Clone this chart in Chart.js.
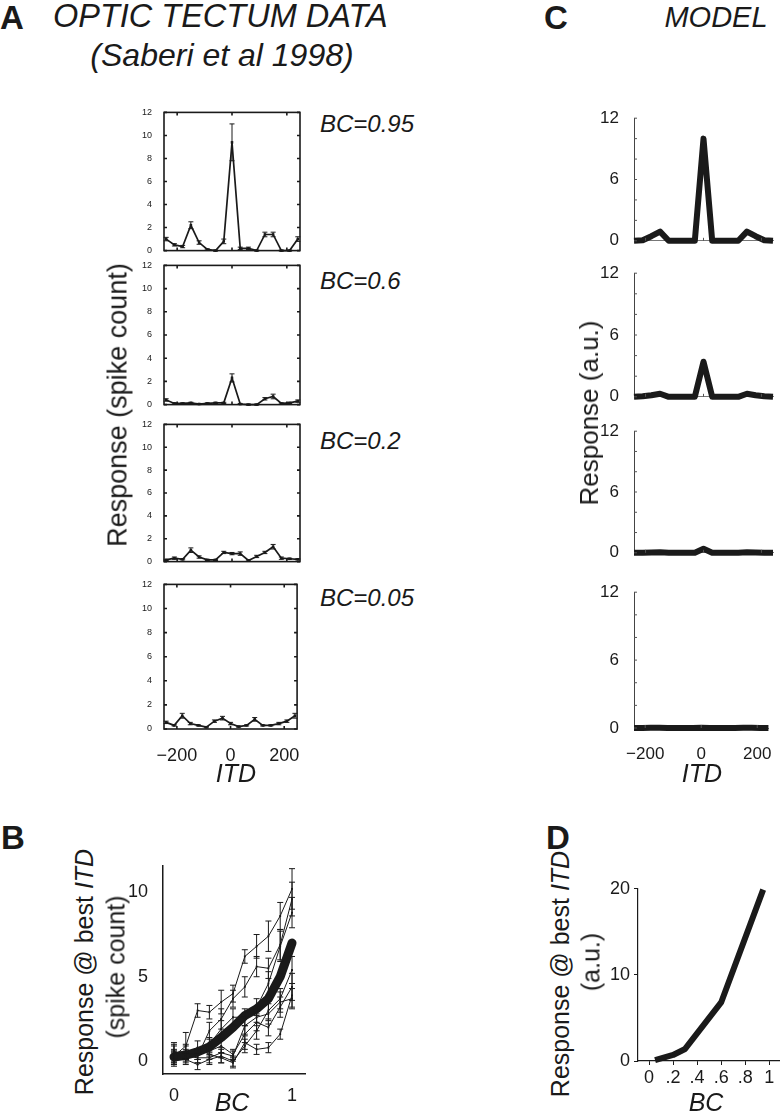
<!DOCTYPE html>
<html>
<head>
<meta charset="utf-8">
<script src="https://cdn.jsdelivr.net/npm/chart.js@4.4.0/dist/chart.umd.min.js"></script>
<style>
  body { margin: 0; background: #fff; width: 780px; height: 1116px; position: relative; overflow: hidden;
         font-family: "Liberation Sans", Arial, sans-serif; color: #1a1a1a; }
  canvas { position: absolute; }
  .t { position: absolute; white-space: nowrap; line-height: 1; }
  .i { font-style: italic; }
  .b { font-weight: bold; }
</style>
</head>
<body>
<script>
// ---- data ----
const itdTectum = [-240, -210, -180, -150, -120, -90, -60, -30, 0, 30, 60, 90, 120, 150, 180, 210, 240];
const itdTicks = [-200, 0, 200];

// optic tectum responses (spike count) and error bars
const tect95 = [1.0, 0.5, 0.35, 2.2, 0.7, 0.1, 0.0, 0.8, 9.4, 0.2, 0.2, 0.0, 1.4, 1.4, 0.0, 0.0, 1.0];
const err95  = [0.15, 0.1, 0.1, 0.3, 0.15, 0.05, 0.05, 0.2, 1.6, 0.1, 0.1, 0.05, 0.2, 0.2, 0.05, 0.05, 0.2];
const tect60 = [0.4, 0.1, 0.1, 0.15, 0.05, 0.1, 0.15, 0.15, 2.3, 0.05, 0.0, 0.0, 0.5, 0.7, 0.1, 0.15, 0.3];
const err60  = [0.1, 0.05, 0.05, 0.05, 0.05, 0.05, 0.05, 0.05, 0.35, 0.05, 0.05, 0.05, 0.1, 0.2, 0.05, 0.05, 0.1];
const tect20 = [0.15, 0.3, 0.2, 1.0, 0.4, 0.15, 0.15, 0.8, 0.7, 0.7, 0.1, 0.45, 0.8, 1.3, 0.3, 0.25, 0.2];
const err20  = [0.05, 0.1, 0.05, 0.2, 0.1, 0.05, 0.05, 0.1, 0.1, 0.15, 0.05, 0.1, 0.1, 0.2, 0.1, 0.05, 0.05];
const tect05 = [0.55, 0.3, 1.1, 0.45, 0.3, 0.15, 0.65, 0.9, 0.45, 0.2, 0.3, 0.8, 0.3, 0.3, 0.45, 0.65, 1.1];
const err05  = [0.1, 0.05, 0.2, 0.1, 0.05, 0.05, 0.1, 0.15, 0.1, 0.05, 0.05, 0.15, 0.05, 0.05, 0.1, 0.1, 0.2];

// model responses (a.u.)
const itdModel = [-240, -210, -180, -150, -120, -90, -60, -30, 0, 30, 60, 90, 120, 150, 180, 210, 240];
const model95 = [0, 0.05, 0.45, 0.9, 0, 0, 0, 0, 10.0, 0, 0, 0, 0, 0.9, 0.45, 0.05, 0];
const model60 = [0, 0.05, 0.15, 0.3, 0, 0, 0, 0, 3.4, 0, 0, 0, 0, 0.3, 0.15, 0.05, 0];
const model20 = [0, 0, 0.03, 0.05, 0, 0, 0, 0, 0.4, 0, 0, 0, 0, 0.05, 0.03, 0, 0];
const model05 = [0, 0, 0.02, 0.03, 0, 0, 0, 0, 0.03, 0, 0, 0, 0, 0.03, 0.02, 0, 0];

// panel B: response at best ITD vs BC, single neurons + mean
const bcData = [0, 0.1, 0.2, 0.3, 0.4, 0.5, 0.6, 0.7, 0.8, 0.9, 1.0];
const neuron1 = [0.3, 0.9, 3.0, 2.9, 3.5, 4.0, 6.2, 6.8, 7.4, 8.6, 10.2];
const nErr1   = [0.4, 0.8, 0.4, 0.4, 0.7, 0.5, 0.4, 0.7, 0.9, 0.8, 1.2];
const neuron2 = [0.5, 0.6, 0.3, 1.8, 2.5, 3.7, 4.4, 5.6, 5.5, 6.9, 9.6];
const nErr2   = [0.5, 0.4, 0.4, 0.5, 0.6, 0.5, 0.6, 0.6, 0.6, 0.9, 1.0];
const neuron3 = [0.2, 0.4, 0.4, 1.0, 1.9, 2.6, 2.6, 3.2, 4.6, 6.8, 8.8];
const nErr3   = [0.4, 0.3, 0.3, 0.4, 0.5, 0.5, 0.5, 0.5, 0.7, 0.9, 0.9];
const neuron4 = [0.4, 0.1, -0.2, 0.1, 0.3, 0.0, 0.9, 1.8, 3.0, 3.7, 5.4];
const nErr4   = [0.5, 0.3, 0.3, 0.3, 0.4, 0.3, 0.4, 0.5, 0.6, 0.6, 0.8];
const neuron5 = [0.2, 0.5, 0.8, 0.4, 0.2, -0.1, 1.1, 0.7, 0.8, 1.6, 3.9];
const nErr5   = [0.4, 0.4, 0.4, 0.3, 0.3, 0.3, 0.4, 0.3, 0.3, 0.3, 0.7];
const neuron6 = [0.6, 0.2, 0.4, 0.6, 0.9, 0.4, 1.6, 2.3, 2.0, 3.2, 4.4];
const nErr6   = [0.5, 0.3, 0.3, 0.3, 0.4, 0.3, 0.5, 0.5, 0.5, 0.6, 0.8];
const neuron7 = [0.1, 0.3, 0.2, 0.2, 0.5, 0.3, 2.1, 2.6, 2.8, 3.5, 3.7];
const nErr7   = [0.4, 0.3, 0.3, 0.3, 0.3, 0.3, 0.5, 0.5, 0.6, 0.6, 0.6];
const neuronMean = [0.25, 0.35, 0.55, 0.85, 1.4, 2.0, 2.7, 3.1, 3.7, 5.0, 7.0];

// panel D: model response at best ITD vs BC
const bcModel = [0.05, 0.2, 0.3, 0.6, 0.95];
const respModel = [0.1, 0.7, 1.4, 6.8, 19.9];

const bTicksX = [0, 1];
const bTicksY = [0, 5, 10];
const dTicksX = [0, 0.2, 0.4, 0.6, 0.8, 1];
const dTicksY = [0, 10, 20];

// ---- setup ----
const INK = '#1a1a1a';
Chart.defaults.font.family = '"Liberation Sans", Arial, sans-serif';
Chart.defaults.color = INK;
Chart.defaults.animation = false;
Chart.defaults.plugins.legend.display = false;
Chart.defaults.plugins.tooltip.enabled = false;

const fixTicks = list => s => { s.ticks = list.map(v => ({ value: v })); };
const fmtItd = v => v < 0 ? '\u2212' + Math.abs(v) : String(v);
const pts = (xs, ys) => xs.map((x, i) => ({ x: x, y: ys[i] }));

// box / inward tick marks
const framePlugin = {
    id: 'frame',
    afterDatasetsDraw(chart, args, opts) {
        const { ctx, chartArea: a, scales } = chart;
        const len = opts.tick || 3;
        ctx.save();
        ctx.strokeStyle = opts.color || INK;
        ctx.lineWidth = opts.width || 1;
        if (opts.box) {
            ctx.strokeRect(a.left, a.top, a.right - a.left, a.bottom - a.top);
        }
        ctx.beginPath();
        scales.y.ticks.forEach(t => {
            const y = scales.y.getPixelForValue(t.value);
            ctx.moveTo(a.left, y); ctx.lineTo(a.left + len, y);
            if (opts.box) { ctx.moveTo(a.right, y); ctx.lineTo(a.right - len, y); }
        });
        scales.x.ticks.forEach(t => {
            const x = scales.x.getPixelForValue(t.value);
            ctx.moveTo(x, a.bottom); ctx.lineTo(x, a.bottom - len);
            if (opts.box) { ctx.moveTo(x, a.top); ctx.lineTo(x, a.top + len); }
        });
        ctx.stroke();
        ctx.restore();
    }
};

// vertical error bars with caps
const errorPlugin = {
    id: 'errorBars',
    afterDatasetsDraw(chart) {
        const { ctx } = chart;
        const ys = chart.scales.y;
        chart.data.datasets.forEach((ds, i) => {
            if (!ds.errors) return;
            const meta = chart.getDatasetMeta(i);
            const cap = ds.cap || 2.5;
            ctx.save();
            ctx.strokeStyle = ds.borderColor;
            ctx.lineWidth = 1;
            ctx.beginPath();
            meta.data.forEach((p, j) => {
                const v = ds.data[j].y, e = ds.errors[j];
                const top = ys.getPixelForValue(v + e), bot = ys.getPixelForValue(v - e);
                ctx.moveTo(p.x, top); ctx.lineTo(p.x, bot);
                ctx.moveTo(p.x - cap, top); ctx.lineTo(p.x + cap, top);
                ctx.moveTo(p.x - cap, bot); ctx.lineTo(p.x + cap, bot);
            });
            ctx.stroke();
            ctx.restore();
        });
    }
};

// place a chart so its plot area lands on the given page box
function panel(area, m, cfg) {
    const c = document.createElement('canvas');
    c.width = area.r - area.l + m.l + m.r;
    c.height = area.b - area.t + m.t + m.b;
    c.style.left = (area.l - m.l) + 'px';
    c.style.top = (area.t - m.t) + 'px';
    document.body.appendChild(c);
    cfg.options.responsive = false;
    cfg.options.layout = { padding: { top: m.t, right: m.r, left: 0, bottom: 0 } };
    cfg.options.scales.y.afterFit = s => { s.width = m.l; };
    cfg.options.scales.x.afterFit = s => { s.height = m.b; };
    return new Chart(c, cfg);
}

function text(html, x, base, size, cls, align) {
    const d = document.createElement('div');
    d.className = 't ' + (cls || '');
    d.innerHTML = html;
    d.style.fontSize = size + 'px';
    d.style.left = x + 'px';
    d.style.top = (base - 0.8465 * size) + 'px';
    if (align === 'center') d.style.transform = 'translateX(-50%)';
    document.body.appendChild(d);
}

function vtext(html, cx, cy, size, cls) {
    const d = document.createElement('div');
    d.className = 't ' + (cls || '');
    d.innerHTML = html;
    d.style.fontSize = size + 'px';
    d.style.left = cx + 'px';
    d.style.top = cy + 'px';
    d.style.transform = 'translate(-50%,-50%) rotate(-90deg)';
    document.body.appendChild(d);
}

// ---- panel A: optic tectum data ----
const tectumRows = [
    { vals: tect95, errs: err95, t: 110, b: 258 },
    { vals: tect60, errs: err60, t: 263, b: 412 },
    { vals: tect20, errs: err20, t: 422, b: 569 },
    { vals: tect05, errs: err05, t: 582, b: 729 }
];

tectumRows.forEach((row, k) => {
    const last = k === tectumRows.length - 1;
    panel({ l: 164, t: row.t, r: 300, b: row.b }, { l: 34, t: 7, r: 8, b: last ? 32 : 2 }, {
        type: 'line',
        data: {
            datasets: [{
                data: pts(itdTectum, row.vals),
                errors: row.errs,
                borderColor: INK,
                borderWidth: 1.7,
                pointStyle: 'rect',
                pointRadius: 1.8,
                pointBackgroundColor: INK,
                pointBorderWidth: 0,
                clip: false
            }]
        },
        options: {
            scales: {
                x: {
                    type: 'linear', min: -248, max: 248,
                    afterBuildTicks: fixTicks(itdTicks),
                    grid: { display: false }, border: { display: false },
                    ticks: { display: last, font: { size: 18 }, padding: 8, maxRotation: 0, autoSkip: false, callback: fmtItd }
                },
                y: {
                    min: 0, max: 12,
                    grid: { display: false }, border: { display: false },
                    ticks: { stepSize: 2, font: { size: 9 }, padding: 4, autoSkip: false }
                }
            },
            plugins: { frame: { box: true, tick: 3, width: 1.6 } }
        },
        plugins: [framePlugin, errorPlugin]
    });
});

// ---- panel C: model ----
const modelRows = [
    { vals: model95, t: 113, b: 256 },
    { vals: model60, t: 268, b: 412 },
    { vals: model20, t: 426, b: 568 },
    { vals: model05, t: 587, b: 728 }
];

modelRows.forEach((row, k) => {
    const last = k === modelRows.length - 1;
    panel({ l: 634, t: row.t, r: 773, b: row.b }, { l: 34, t: 12, r: 7, b: last ? 32 : 2 }, {
        type: 'line',
        data: {
            datasets: [{
                data: pts(itdModel, row.vals),
                borderColor: INK,
                borderWidth: 6,
                borderJoinStyle: 'round',
                pointRadius: 0,
                clip: false
            }]
        },
        options: {
            scales: {
                x: {
                    type: 'linear', min: -240, max: 240,
                    afterBuildTicks: fixTicks(itdTicks),
                    grid: { display: false },
                    border: { display: true, color: '#777', width: 1 },
                    ticks: { display: last, font: { size: 17 }, padding: 8, maxRotation: 0, autoSkip: false, callback: fmtItd }
                },
                y: {
                    min: 0, max: 12,
                    grid: { display: false },
                    border: { display: true, color: '#444', width: 1 },
                    ticks: { stepSize: 2, font: { size: 17 }, padding: 7, autoSkip: false,
                             callback: v => (v === 0 || v === 6 || v === 12) ? String(v) : '' }
                }
            },
            plugins: { frame: { box: false, tick: 3, width: 1, color: '#555' } }
        },
        plugins: [framePlugin]
    });
});

// ---- panel B: response at best ITD (data) ----
const neuronSets = [
    [neuron1, nErr1], [neuron2, nErr2], [neuron3, nErr3], [neuron4, nErr4],
    [neuron5, nErr5], [neuron6, nErr6], [neuron7, nErr7]
];

panel({ l: 163, t: 862, r: 305, b: 1074 }, { l: 40, t: 14, r: 6, b: 30 }, {
    type: 'line',
    data: {
        datasets: neuronSets.map(([v, e]) => ({
            data: pts(bcData, v),
            errors: e,
            cap: 3,
            borderColor: INK,
            borderWidth: 1,
            pointStyle: 'rect',
            pointRadius: 1.3,
            pointBackgroundColor: INK,
            pointBorderWidth: 0,
            clip: false
        })).concat([{
            data: pts(bcData, neuronMean),
            borderColor: INK,
            borderWidth: 9,
            borderJoinStyle: 'round',
            borderCapStyle: 'round',
            pointRadius: 3.5,
            pointBackgroundColor: INK,
            pointBorderWidth: 0,
            clip: false
        }])
    },
    options: {
        scales: {
            x: {
                type: 'linear', min: -0.093, max: 1.11,
                afterBuildTicks: fixTicks(bTicksX),
                grid: { display: false },
                border: { display: true, color: INK, width: 1.5 },
                ticks: { font: { size: 18 }, padding: 3, maxRotation: 0, autoSkip: false }
            },
            y: {
                min: -0.76, max: 11.57,
                afterBuildTicks: fixTicks(bTicksY),
                grid: { display: false },
                border: { display: true, color: INK, width: 1.5 },
                ticks: { font: { size: 18 }, padding: 7, autoSkip: false }
            }
        }
    },
    plugins: [errorPlugin]
});

// ---- panel D: response at best ITD (model) ----
panel({ l: 638, t: 888, r: 780, b: 1061 }, { l: 40, t: 14, r: 0, b: 30 }, {
    type: 'line',
    data: {
        datasets: [{
            data: pts(bcModel, respModel),
            borderColor: INK,
            borderWidth: 6,
            borderJoinStyle: 'round',
            pointRadius: 0,
            clip: false
        }]
    },
    options: {
        scales: {
            x: {
                type: 'linear', min: -0.092, max: 1.09,
                afterBuildTicks: fixTicks(dTicksX),
                grid: { display: true, drawOnChartArea: false, drawTicks: true, tickLength: 4, color: INK },
                border: { display: true, color: INK, width: 1.2 },
                ticks: { font: { size: 18 }, padding: 2, maxRotation: 0, autoSkip: false,
                         callback: v => (v === 0 || v === 1) ? String(v) : '.' + Math.round(v * 10) }
            },
            y: {
                min: 0, max: 20,
                afterBuildTicks: fixTicks(dTicksY),
                grid: { display: true, drawOnChartArea: false, drawTicks: true, tickLength: 4, color: INK },
                border: { display: true, color: INK, width: 1.2 },
                ticks: { font: { size: 18 }, padding: 4, autoSkip: false }
            }
        }
    }
});

// ---- text ----
text('A', 0, 29, 33, 'b');
text('OPTIC TECTUM DATA', 53, 28, 32.5, 'i');
text('(Saberi et al 1998)', 222, 66, 32, 'i', 'center');
text('C', 544, 29, 33, 'b');
text('MODEL', 716, 28, 29, 'i', 'center');

text('BC=0.95', 320, 132, 24, 'i');
text('BC=0.6', 320, 289, 24, 'i');
text('BC=0.2', 320, 449, 24, 'i');
text('BC=0.05', 320, 606, 24, 'i');

text('ITD', 236, 782, 25, 'i', 'center');
text('ITD', 702, 782, 25, 'i', 'center');
vtext('Response (spike count)', 118, 405, 27);
vtext('Response (a.u.)', 589, 413, 26);

text('B', 1, 849, 33, 'b');
text('D', 546, 849, 33, 'b');
vtext('Response @ best <i>ITD</i>', 84, 972, 25);
vtext('(spike count)', 116, 967, 25);
vtext('Response @ best <i>ITD</i>', 560, 974, 25);
vtext('(a.u.)', 591, 962, 25);
text('BC', 232, 1111, 25, 'i', 'center');
text('BC', 706, 1111, 25, 'i', 'center');
</script>
</body>
</html>
